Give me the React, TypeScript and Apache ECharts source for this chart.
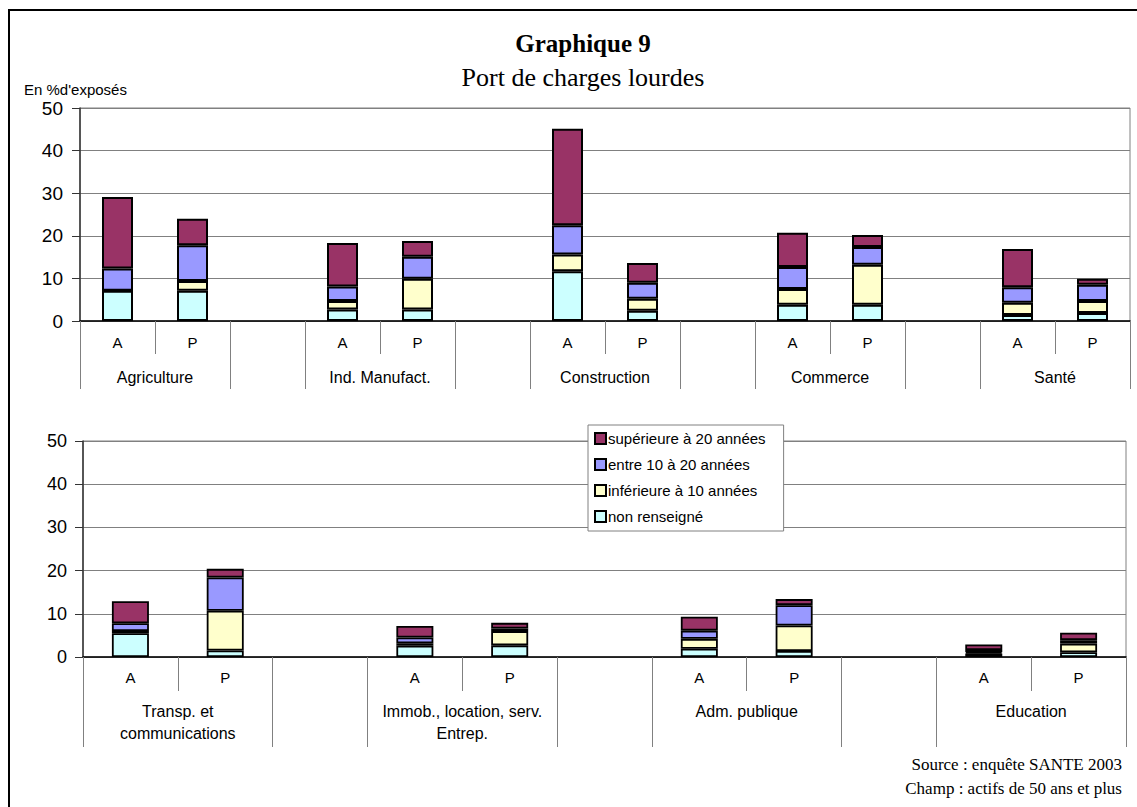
import React, { useEffect, useRef } from "react";
import * as echarts from "echarts";

// ---- Data ----
const seriesNames = [
  "non renseigné",
  "inférieure à 10 années",
  "entre 10 à 20 années",
  "supérieure à 20 années",
];
const legendOrder = [
  "supérieure à 20 années",
  "entre 10 à 20 années",
  "inférieure à 10 années",
  "non renseigné",
];
const seriesColors = ["#CCFFFF", "#FFFFCC", "#9999FF", "#993366"];
const pairLabels = ["A", "P"];

const topGroups = ["Agriculture", "Ind. Manufact.", "Construction", "Commerce", "Santé"];
// values per group: A, P
const topNonRenseigne = [7.1, 7.1, 2.7, 2.7, 11.7, 2.4, 3.8, 3.8, 1.4, 1.9];
const topInf10 = [0, 2.3, 2.0, 7.2, 3.9, 2.8, 3.7, 9.4, 2.9, 2.8];
const topEntre10_20 = [5.2, 8.4, 3.4, 5.2, 6.9, 3.8, 5.2, 4.2, 3.6, 3.8];
const topSup20 = [16.8, 6.2, 10.2, 3.7, 22.6, 4.6, 8.0, 2.8, 9.0, 1.4];

const bottomGroups = [
  "Transp. et\ncommunications",
  "Immob., location, serv.\nEntrep.",
  "Adm. publique",
  "Education",
];
const bottomNonRenseigne = [5.5, 1.5, 2.6, 2.7, 1.9, 1.4, 0.8, 1.1];
const bottomInf10 = [0.5, 9.2, 0.6, 3.3, 2.3, 5.9, 0.3, 2.0];
const bottomEntre10_20 = [1.8, 7.7, 1.3, 0.6, 1.9, 4.7, 0.5, 0.8];
const bottomSup20 = [5.1, 2.0, 2.7, 1.3, 3.2, 1.4, 1.3, 1.7];

const yMin = 0;
const yMax = 50;
const yInterval = 10;

// ---- helpers ----
function buildSlots(groups: string[]) {
  const keys: string[] = [];
  const ap: string[] = [];
  const grp: string[] = [];
  const shortTicks = new Set<number>();
  const longTicks = new Set<number>();
  groups.forEach((g, gi) => {
    longTicks.add(keys.length);
    keys.push(g + "|A");
    ap.push(pairLabels[0]);
    grp.push(g);
    shortTicks.add(keys.length);
    keys.push(g + "|P");
    ap.push(pairLabels[1]);
    grp.push("");
    if (gi < groups.length - 1) {
      longTicks.add(keys.length);
      keys.push("gap" + gi);
      ap.push("");
      grp.push("");
      longTicks.add(keys.length);
    }
  });
  return { keys, ap, grp, shortTicks, longTicks };
}

function buildData(values: number[], groupCount: number) {
  const out: (number | string)[] = [];
  for (let g = 0; g < groupCount; g++) {
    out.push(values[2 * g], values[2 * g + 1]);
    if (g < groupCount - 1) out.push("-");
  }
  return out;
}

const SANS = "'Liberation Sans', Arial, sans-serif";
const SERIF = "'Liberation Serif', 'Times New Roman', serif";

export default function App() {
  const ref = useRef<HTMLDivElement>(null);

  useEffect(() => {
    if (!ref.current) return;
    const chart = echarts.init(ref.current, undefined, { renderer: "svg" });

    const top = buildSlots(topGroups);
    const bot = buildSlots(bottomGroups);

    const topGrid = { left: 80, top: 108, width: 1050, height: 213 };
    const botGrid = { left: 83, top: 441, width: 1043, height: 216 };
    const topBand = topGrid.width / top.keys.length;
    const botBand = botGrid.width / bot.keys.length;

    const topSeriesVals = [topNonRenseigne, topInf10, topEntre10_20, topSup20];
    const botSeriesVals = [bottomNonRenseigne, bottomInf10, bottomEntre10_20, bottomSup20];

    const grey = "#808080";

    const makeXAxes = (slots: any, gridIndex: number, band: number, apMargin: number, grpMargin: number, shortLen: number, longLen: number) => [
      {
        type: "category",
        gridIndex,
        position: "bottom",
        data: slots.keys,
        axisLine: { show: true, lineStyle: { color: "#000", width: 1.5 } },
        axisTick: {
          show: true,
          interval: (i: number) => slots.shortTicks.has(i),
          length: shortLen,
          lineStyle: { color: grey, width: 1 },
        },
        axisLabel: {
          interval: 0,
          formatter: (_v: string, i: number) => slots.ap[i],
          margin: apMargin,
          fontSize: 15,
          fontFamily: SANS,
          color: "#000",
        },
        splitLine: { show: false },
      },
      {
        type: "category",
        gridIndex,
        position: "bottom",
        data: slots.keys,
        axisLine: { show: false },
        axisTick: {
          show: true,
          interval: (i: number) => slots.longTicks.has(i),
          length: longLen,
          lineStyle: { color: grey, width: 1 },
        },
        axisLabel: {
          interval: 0,
          formatter: (_v: string, i: number) => slots.grp[i],
          margin: grpMargin,
          fontSize: 16,
          lineHeight: 22,
          fontFamily: SANS,
          color: "#000",
          padding: [0, 0, 0, band],
        },
        splitLine: { show: false },
      },
    ];

    const makeYAxis = (gridIndex: number, fontSize: number, margin: number) => ({
      type: "value",
      gridIndex,
      min: yMin,
      max: yMax,
      interval: yInterval,
      axisLine: { show: true, lineStyle: { color: "#333", width: 1.5 } },
      axisTick: { show: true, length: 8, lineStyle: { color: "#333" } },
      axisLabel: { fontSize, margin, fontFamily: SANS, color: "#000" },
      splitLine: { show: true, lineStyle: { color: grey, width: 1 } },
    });

    const series: any[] = [];
    seriesNames.forEach((name, si) => {
      series.push({
        name,
        type: "bar",
        xAxisIndex: 0,
        yAxisIndex: 0,
        stack: "top",
        barWidth: 31,
        data: buildData(topSeriesVals[si], topGroups.length),
        itemStyle: { color: seriesColors[si], borderColor: "#000", borderWidth: 2 },
      });
    });
    seriesNames.forEach((name, si) => {
      series.push({
        name,
        type: "bar",
        xAxisIndex: 2,
        yAxisIndex: 1,
        stack: "bottom",
        barWidth: 37,
        data: buildData(botSeriesVals[si], bottomGroups.length),
        itemStyle: { color: seriesColors[si], borderColor: "#000", borderWidth: 1.8 },
      });
    });

    chart.setOption({
      animation: false,
      backgroundColor: "#fff",
      grid: [
        { ...topGrid, show: true, borderColor: grey, borderWidth: 1, backgroundColor: "transparent" },
        { ...botGrid, show: true, borderColor: grey, borderWidth: 1, backgroundColor: "transparent" },
      ],
      xAxis: [
        ...makeXAxes(top, 0, topBand, 14, 45, 33, 68),
        ...makeXAxes(bot, 1, botBand, 13, 43, 34, 90),
      ],
      yAxis: [makeYAxis(0, 19, 17), makeYAxis(1, 18, 16)],
      legend: {
        data: legendOrder,
        orient: "vertical",
        left: 588,
        top: 425,
        itemWidth: 11,
        itemHeight: 11,
        itemGap: 11,
        padding: [6, 18, 7, 6],
        backgroundColor: "#fff",
        borderColor: grey,
        borderWidth: 1,
        icon: "rect",
        textStyle: { fontSize: 15, fontFamily: SANS, color: "#000", padding: [0, 0, 0, -3] },
      },
      graphic: [
        {
          type: "rect",
          shape: { x: 9, y: 10, width: 1140, height: 810 },
          style: { fill: "none", stroke: "#000", lineWidth: 2 },
          silent: true,
        },
        {
          type: "text",
          x: 583,
          y: 43,
          style: {
            text: "Graphique 9",
            font: `bold 25px ${SERIF}`,
            align: "center",
            verticalAlign: "middle",
            fill: "#000",
          },
        },
        {
          type: "text",
          x: 583,
          y: 77,
          style: {
            text: "Port de charges lourdes",
            font: `26px ${SERIF}`,
            align: "center",
            verticalAlign: "middle",
            fill: "#000",
          },
        },
        {
          type: "text",
          x: 24,
          y: 89,
          style: {
            text: "En %d'exposés",
            font: `15px ${SANS}`,
            align: "left",
            verticalAlign: "middle",
            fill: "#000",
          },
        },
        {
          type: "text",
          x: 1122,
          y: 764,
          style: {
            text: "Source : enquête SANTE 2003",
            font: `17px ${SERIF}`,
            align: "right",
            verticalAlign: "middle",
            fill: "#000",
          },
        },
        {
          type: "text",
          x: 1122,
          y: 788,
          style: {
            text: "Champ : actifs de 50 ans et plus",
            font: `17px ${SERIF}`,
            align: "right",
            verticalAlign: "middle",
            fill: "#000",
          },
        },
      ],
      series,
    });

    return () => chart.dispose();
  }, []);

  return (
    <div
      ref={ref}
      style={{ position: "absolute", left: 0, top: 0, width: 1137, height: 807 }}
    />
  );
}
